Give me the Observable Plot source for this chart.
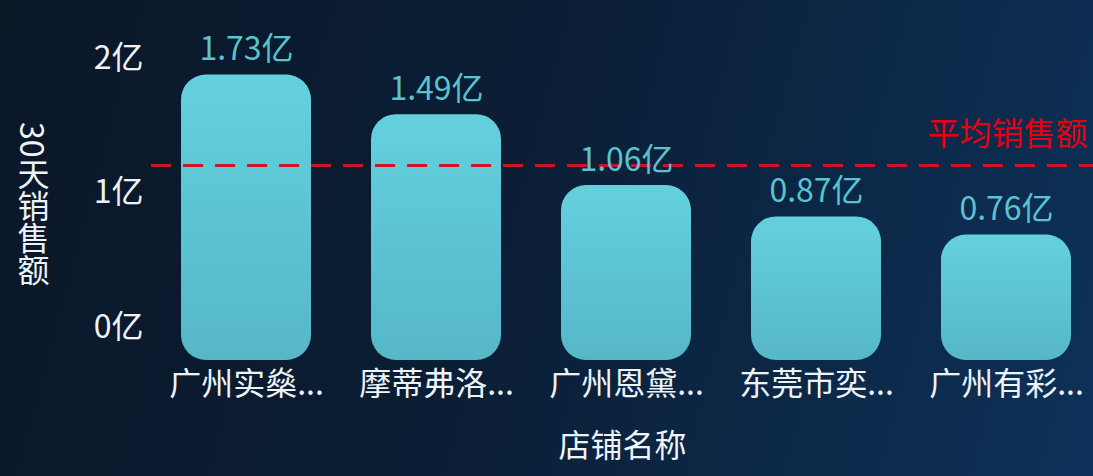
<!DOCTYPE html>
<html>
<head>
<meta charset="utf-8">
<script src="https://cdn.jsdelivr.net/npm/d3@7"></script>
<script src="https://cdn.jsdelivr.net/npm/@observablehq/plot@0.6"></script>
<style>
  html, body { margin: 0; padding: 0; }
  body {
    width: 1093px; height: 476px; overflow: hidden;
    background: linear-gradient(105deg, #0a1727 0%, #0b1e35 45%, #0c2a4b 80%, #0d3159 100%);
    font-family: "Noto Sans CJK SC", "Noto Sans", sans-serif;
  }
  #wrap { position: relative; width: 1093px; height: 476px; }
  #wrap svg { position: absolute; left: 0; top: 0; }
</style>
</head>
<body>
<div id="wrap"></div>
<script>
const stores = ["广州实燊...", "摩蒂弗洛...", "广州恩黛...", "东莞市奕...", "广州有彩..."];
const sales = [1.73, 1.49, 1.06, 0.87, 0.76];
const yTicks = [0, 1, 2];
const unit = "亿";
const xTitle = "店铺名称";
const yTitle = "30天销售额";
const avgLabel = "平均销售额";

const data = stores.map((s, i) => ({store: s, sales: sales[i]}));
const avg = d3.mean(sales);
const font = "'Noto Sans CJK SC', 'Noto Sans', sans-serif";

const main = Plot.plot({
  width: 1093, height: 476,
  marginLeft: 151, marginRight: 0, marginTop: 0, marginBottom: 116,
  style: {background: "transparent", fontFamily: font, color: "#eef3f8", overflow: "visible"},
  x: {domain: stores, range: [151, 1101], paddingInner: 0.316, paddingOuter: 0.158, label: null},
  y: {domain: [0, 2], range: [360, 30], label: null, axis: null},
  marks: [
    Plot.barY(data, {x: "store", y: "sales", fill: "url(#barGrad)", rx: 25}),
    Plot.ruleY([avg], {stroke: "#c8152a", strokeWidth: 3, strokeDasharray: "20,12"}),
    Plot.text(data, {x: "store", y: "sales", text: d => d.sales.toFixed(2) + unit, dy: -25,
      fill: "#5cc2d0", fontSize: 32, lineAnchor: "middle"}),
    Plot.text([avgLabel], {y: [avg], frameAnchor: "right", textAnchor: "end", dx: -6, dy: -31,
      fill: "#e8000f", fontSize: 32, lineAnchor: "middle"}),
    Plot.axisX({tickSize: 0, tickPadding: 12, fontSize: 32, label: null}),
    Plot.text([xTitle], {frameAnchor: "bottom", dy: 86, fontSize: 32, lineAnchor: "middle", fill: "#eef3f8"}),
    Plot.text([yTitle], {frameAnchor: "left", dx: -118, dy: 13, fontSize: 32, fill: "#eef3f8"})
  ]
});

d3.select(main).insert("defs", ":first-child").html(`
  <linearGradient id="barGrad" x1="0" y1="0" x2="0" y2="1">
    <stop offset="0%" stop-color="#64d0de"/>
    <stop offset="100%" stop-color="#56b7c7"/>
  </linearGradient>`);

d3.select(main).selectAll("text")
  .filter(function() { return this.textContent === yTitle; })
  .attr("dy", null)
  .attr("text-anchor", "middle")
  .attr("writing-mode", "vertical-rl")
  .style("writing-mode", "vertical-rl");

const axis = Plot.plot({
  width: 1093, height: 476,
  marginLeft: 146, marginRight: 0, marginTop: 58, marginBottom: 149,
  style: {background: "transparent", fontFamily: font, color: "#eef3f8", overflow: "visible"},
  y: {domain: [0, 2], label: null},
  marks: [
    Plot.axisY(yTicks, {tickSize: 0, tickPadding: 3, fontSize: 32, tickFormat: d => d + unit, label: null})
  ]
});

const wrap = document.getElementById("wrap");
wrap.appendChild(main);
wrap.appendChild(axis);
</script>
</body>
</html>
